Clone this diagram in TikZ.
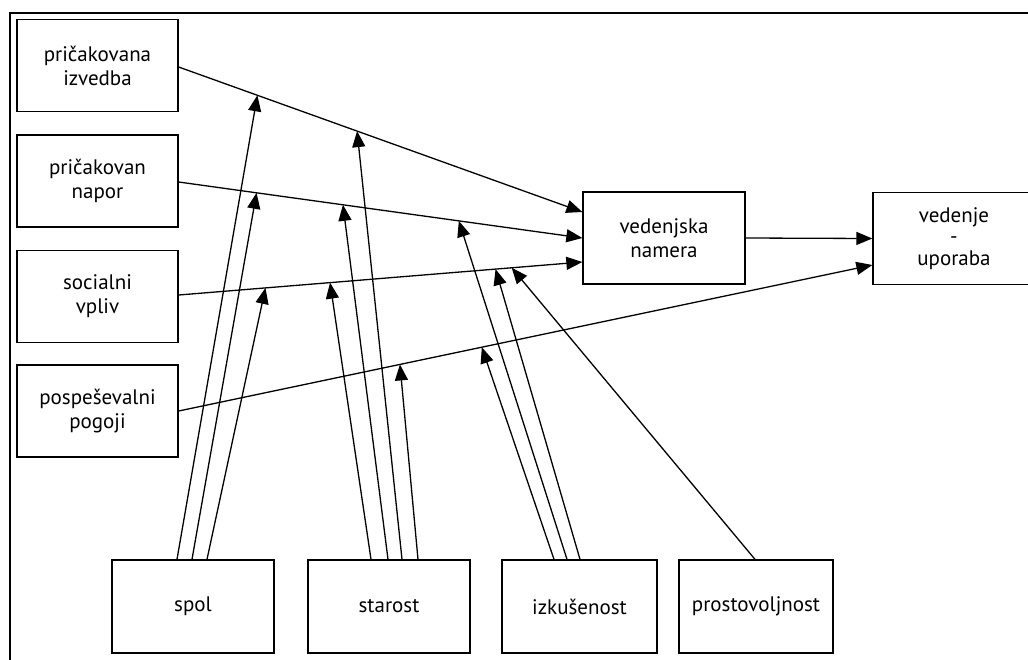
\documentclass[tikz,border=0pt]{standalone}
\usepackage{fontspec}
\setmainfont{PT Sans}
\usetikzlibrary{arrows.meta,calc}
\begin{document}
\begin{tikzpicture}[x=1pt,y=-1pt,
  box/.style={draw,line width=1.3pt,minimum width=161pt,minimum height=92pt,align=center,
    font=\fontsize{21}{24}\selectfont,inner sep=0pt},
  arr/.style={line width=1.3pt,-{Triangle[length=16pt,width=13pt]}},
  frame/.style={line width=2.6pt}]
\fill[white] (0,0) rectangle (1028,659);
\useasboundingbox (0,0) rectangle (1028,659);
% outer frame (only top and left visible)
\coordinate (ftl) at (10,13);
\coordinate (ftr) at (1040,13);
\coordinate (fbl) at (10,670);
\draw[frame] (ftr) -- (ftl) -- (fbl);
% left boxes
\node[box] (pi) at (97.5,65.5) {pričakovana\\izvedba};
\node[box] (pn) at (97.5,181) {pričakovan\\napor};
\node[box] (sv) at (97.5,296.5) {socialni\\vpliv};
\node[box] (pp) at (97.5,411) {pospeševalni\\pogoji};
% right boxes
\node[box,minimum width=162pt] (vn) at (664,238) {vedenjska\\namera};
\node[box,minimum width=162pt,font=\fontsize{21}{21.5}\selectfont] (vu) at (954,238.5) {vedenje\\-\\uporaba};
% bottom boxes
\node[box,minimum width=162pt,minimum height=93pt] (spol) at (193,606.5) {spol};
\node[box,minimum width=162pt,minimum height=93pt] (star) at (389,606.5) {starost};
\node[box,minimum width=155pt,minimum height=93pt] (izk) at (579.5,606.5) {izkušenost};
\node[box,minimum width=154pt,minimum height=93pt] (pro) at (756,606.5) {prostovoljnost};
% main paths
\coordinate (l1s) at ([yshift=-1.5pt]pi.east);
\coordinate (l1e) at ([yshift=26pt]vn.west);
\coordinate (l2s) at ([yshift=-1pt]pn.east);
\coordinate (l2e) at (vn.west);
\coordinate (l3s) at ([yshift=1.5pt]sv.east);
\coordinate (l3e) at ([yshift=-24pt]vn.west);
\coordinate (l4s) at (pp.east);
\coordinate (l4e) at ([yshift=-26.5pt]vu.west);
\draw[arr] (l1s) -- (l1e);
\draw[arr] (l2s) -- (l2e);
\draw[arr] (l3s) -- (l3e);
\draw[arr] (l4s) -- (l4e);
\draw[arr] (vn.east) -- (vu.west);
% moderator targets
\coordinate (s1t) at ($(l1s)!0.195!(l1e)$);
\coordinate (s2t) at ($(l2s)!0.193!(l2e)$);
\coordinate (s3t) at ($(l3s)!0.215!(l3e)$);
\coordinate (a3t) at ($(l3s)!0.375!(l3e)$);
\coordinate (a2t) at ($(l2s)!0.407!(l2e)$);
\coordinate (a1t) at ($(l1s)!0.442!(l1e)$);
\coordinate (a4t) at ($(l4s)!0.319!(l4e)$);
\coordinate (i4t) at ($(l4s)!0.437!(l4e)$);
\coordinate (i2t) at ($(l2s)!0.694!(l2e)$);
\coordinate (i3t) at ($(l3s)!0.785!(l3e)$);
\coordinate (p3t) at ($(l3s)!0.825!(l3e)$);
% moderator arrows
\draw[arr] ([xshift=-16pt]spol.north) -- (s1t);
\draw[arr] ([xshift=-1pt]spol.north) -- (s2t);
\draw[arr] ([xshift=14pt]spol.north) -- (s3t);
\draw[arr] ([xshift=-18pt]star.north) -- (a3t);
\draw[arr] ([xshift=-1pt]star.north) -- (a2t);
\draw[arr] ([xshift=13pt]star.north) -- (a1t);
\draw[arr] ([xshift=29pt]star.north) -- (a4t);
\draw[arr] ([xshift=-25.5pt]izk.north) -- (i4t);
\draw[arr] ([xshift=-12.5pt]izk.north) -- (i2t);
\draw[arr] ([xshift=0.5pt]izk.north) -- (i3t);
\draw[arr] ([xshift=-1pt]pro.north) -- (p3t);
\end{tikzpicture}
\end{document}
